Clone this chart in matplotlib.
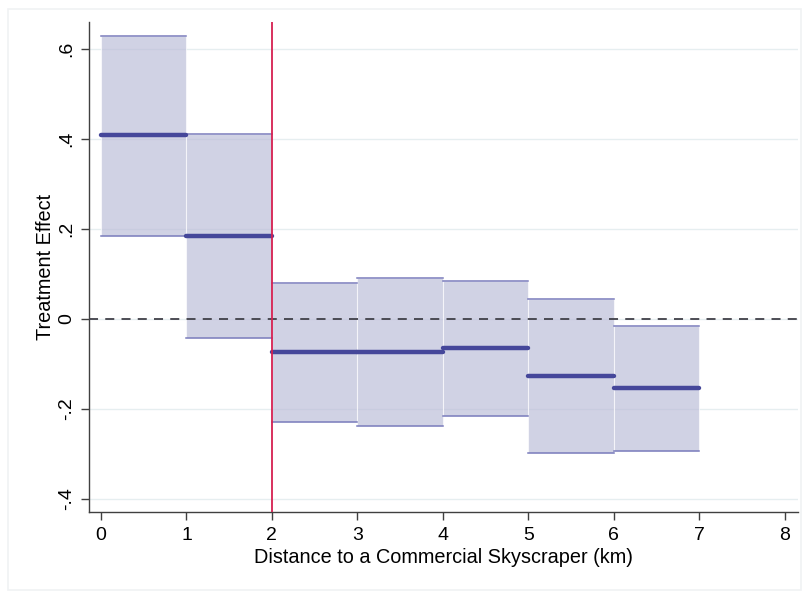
import numpy as np
import matplotlib.pyplot as plt
from matplotlib.patches import Rectangle

# Distance bins (km) with point estimates and 95% CI bounds
bin_left = [0, 1, 2, 3, 4, 5, 6]
bin_right = [1, 2, 3, 4, 5, 6, 7]
estimate = [0.408, 0.184, -0.073, -0.073, -0.064, -0.127, -0.153]
ci_upper = [0.629, 0.411, 0.080, 0.091, 0.084, 0.044, -0.016]
ci_lower = [0.184, -0.042, -0.229, -0.238, -0.216, -0.298, -0.293]

x_ticks = [0, 1, 2, 3, 4, 5, 6, 7, 8]
y_ticks = [-0.4, -0.2, 0, 0.2, 0.4, 0.6]
y_ticklabels = ['-.4', '-.2', '0', '.2', '.4', '.6']

plt.rcParams['font.family'] = ['Liberation Sans', 'DejaVu Sans']

fig = plt.figure(figsize=(8.09, 5.96), dpi=100)
fig.patch.set_facecolor('white')

# light frame around the graph region
fig.add_artist(Rectangle((0.010, 0.010), 0.980, 0.975, transform=fig.transFigure,
                         fill=False, edgecolor='#f0f2f4', linewidth=1.2))

ax = fig.add_axes([0.110, 0.141, 0.876, 0.822])

for yt in y_ticks:
    ax.axhline(yt, color='#e6eef0', linewidth=1.0, zorder=0)

for l, r, e, hi, lo in zip(bin_left, bin_right, estimate, ci_upper, ci_lower):
    ax.add_patch(Rectangle((l, lo), r - l, hi - lo, facecolor='#b8bad6', alpha=0.65,
                           edgecolor='white', linewidth=0.8, zorder=1))
    ax.plot([l, r], [hi, hi], color='#7a7cbc', linewidth=1.1, zorder=2)
    ax.plot([l, r], [lo, lo], color='#7a7cbc', linewidth=1.1, zorder=2)
    ax.plot([l, r], [e, e], color='#45479a', linewidth=3.2, solid_capstyle='round', zorder=4)

ax.axhline(0, color='#404048', linewidth=1.3, linestyle=(0, (5, 4)), zorder=3)
ax.axvline(2, color='#d62050', linewidth=1.3, zorder=5)

ax.set_xlim(-0.14, 8.15)
ax.set_ylim(-0.429, 0.66)
ax.set_xticks(x_ticks)
ax.set_yticks(y_ticks)
ax.set_yticklabels(y_ticklabels, rotation=90, va='center')
ax.tick_params(axis='both', labelsize=14, color='#404040', length=6, width=1.0, pad=4)
ax.tick_params(axis='x', pad=5)

for side in ['top', 'right']:
    ax.spines[side].set_visible(False)
for side in ['left', 'bottom']:
    ax.spines[side].set_color('#404040')
    ax.spines[side].set_linewidth(1.0)

ax.set_xlabel('Distance to a Commercial Skyscraper (km)', fontsize=14.3, labelpad=3)
ax.set_ylabel('Treatment Effect', fontsize=14.3, labelpad=2)

fig.savefig('out.png', dpi=100)
